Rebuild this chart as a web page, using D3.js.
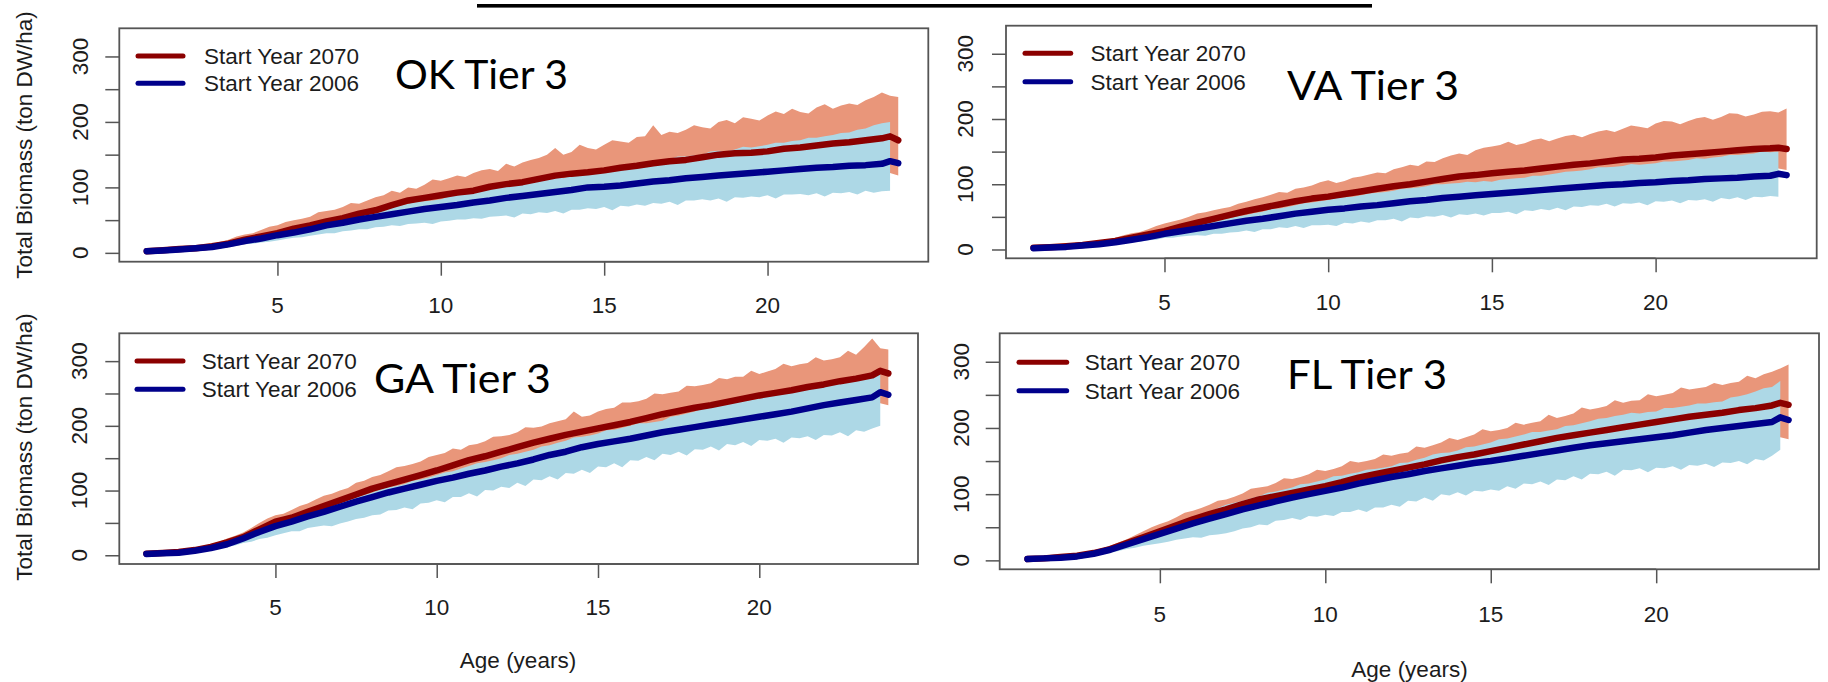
<!DOCTYPE html>
<html>
<head>
<meta charset="utf-8">
<script src="https://cdn.jsdelivr.net/npm/d3@7"></script>
<style>
  html, body { margin: 0; padding: 0; background: #fff; }
  svg { display: block; }
</style>
</head>
<body>
<svg id="chart" width="1828" height="682"></svg>
<script>
// Stand age (years) for the ensemble means
const ages = [1, 1.5, 2, 2.5, 3, 3.5, 4, 4.5, 5, 5.5, 6, 6.5, 7, 7.5, 8, 8.5, 9, 9.5, 10, 10.5,
  11, 11.5, 12, 12.5, 13, 13.5, 14, 14.5, 15, 15.5, 16, 16.5, 17, 17.5, 18, 18.5, 19, 19.5, 20, 20.5,
  21, 21.5, 22, 22.5, 23, 23.5, 23.75, 24];
// Stand age (years) for the ensemble ranges, quarterly from age 1 to 24
const bandAges = d3.range(1, 24.001, 0.25);

const seriesNames = ["Start Year 2070", "Start Year 2006"];
const yTicks = [0, 50, 100, 150, 200, 250, 300];
const yTickLabels = [0, 100, 200, 300];
const xTicks = [5, 10, 15, 20];

// ---- OK Tier 3 (ton DW/ha) ----
const okRedMean = [2.5, 4, 6, 7, 10, 14, 20, 25, 30, 37, 42, 48, 53, 60, 65, 73, 80, 84, 88, 92,
  95, 101, 105, 108, 113, 118, 121, 123, 126, 130, 133, 137, 140, 142, 146, 150, 152, 153, 155, 159,
  161, 164, 167, 169, 172, 175, 178, 172];
const okBlueMean = [2.5, 3.5, 5, 7, 9, 13, 18, 22, 27, 31, 36, 42, 46, 51, 55, 59, 63, 67, 70, 73,
  77, 80, 84, 87, 90, 93, 96, 100, 101, 103, 106, 109, 111, 114, 116, 118, 120, 122, 124, 126,
  128, 130, 131, 133, 134, 136, 140, 137];
const okRedHi = [5, 6, 7, 9, 10, 8, 9, 12, 14, 17, 20, 25, 28, 30, 35, 40, 42, 47, 50, 52,
  55, 62, 64, 66, 70, 76, 75, 80, 85, 88, 95, 92, 100, 98, 104, 112, 110, 114, 118, 116,
  122, 126, 128, 125, 136, 132, 138, 142, 145, 150, 160, 150, 154, 165, 160, 158, 165, 172, 170, 168,
  177, 178, 195, 180, 185, 183, 188, 195, 192, 190, 200, 203, 198, 207, 205, 202, 210, 216, 212, 220,
  215, 213, 222, 227, 220, 225, 228, 226, 233, 238, 245, 240, 238];
const okRedLo = [1, 1.5, 2, 2.5, 3, 3.5, 4, 5, 6, 7, 9, 11, 13, 15, 17, 19, 21, 24, 26, 28,
  31, 33, 35, 37, 39, 42, 45, 47, 50, 52, 55, 57, 60, 62, 65, 66, 68, 70, 72, 73,
  75, 77, 79, 80, 82, 84, 86, 88, 90, 91, 93, 94, 96, 97, 98, 99, 100, 102, 103, 105,
  106, 107, 108, 110, 111, 112, 113, 115, 116, 117, 118, 119, 120, 120, 121, 121, 122, 124, 125, 125,
  126, 127, 128, 129, 130, 130, 130, 131, 132, 132, 133, 122, 118];
const okBlueHi = [4, 4, 5, 6, 7, 8, 9, 10, 11, 13, 16, 19, 22, 24, 27, 30, 33, 36, 38, 40,
  43, 47, 50, 52, 55, 58, 60, 62, 65, 69, 70, 72, 75, 78, 79, 80, 82, 86, 88, 89,
  92, 96, 97, 99, 102, 104, 106, 109, 110, 114, 120, 114, 118, 121, 122, 124, 127, 130, 131, 133,
  135, 139, 140, 141, 143, 147, 147, 149, 150, 155, 156, 155, 158, 162, 161, 163, 165, 168, 168, 171,
  172, 176, 176, 178, 180, 183, 184, 188, 190, 195, 198, 200, null];
const okBlueLo = [1, 1, 2, 2, 3, 3, 4, 5, 6, 7, 9, 11, 13, 14, 16, 17, 19, 21, 23, 24,
  26, 28, 30, 30, 33, 34, 36, 36, 39, 40, 42, 41, 44, 45, 46, 44, 48, 49, 51, 51,
  53, 52, 55, 56, 57, 54, 60, 59, 62, 61, 64, 60, 66, 66, 68, 67, 70, 65, 72, 71,
  74, 72, 76, 75, 78, 73, 80, 80, 82, 80, 83, 78, 85, 84, 86, 85, 88, 83, 89, 89,
  90, 88, 91, 86, 92, 91, 93, 89, 95, 92, 94, 95, null];

// ---- VA Tier 3 ----
const vaRedMean = [2.5, 3.5, 5, 7, 10, 13, 18, 23, 28, 35, 41, 47, 53, 59, 64, 69, 74, 78, 81, 85,
  89, 93, 97, 100, 104, 108, 112, 114, 117, 119, 121, 124, 127, 130, 132, 135, 138, 139, 141, 144,
  146, 148, 150, 152, 154, 155, 156, 154];
const vaBlueMean = [2, 3, 4, 6, 8, 11, 15, 19, 24, 28, 32, 36, 40, 44, 47, 51, 55, 58, 61, 63,
  66, 68, 71, 74, 76, 79, 81, 83, 85, 87, 89, 91, 93, 95, 97, 99, 100, 102, 103, 105,
  106, 108, 109, 110, 112, 113, 116, 114];
const vaRedHi = [5, 5, 6, 7, 8, 9, 10, 11, 13, 15, 18, 22, 25, 27, 31, 36, 40, 43, 46, 50,
  55, 57, 60, 63, 65, 70, 73, 77, 80, 84, 88, 87, 93, 95, 98, 103, 106, 102, 105, 110,
  112, 115, 118, 117, 123, 126, 130, 128, 135, 134, 140, 144, 147, 145, 152, 156, 158, 160, 165, 160,
  163, 168, 170, 166, 170, 174, 176, 172, 177, 181, 183, 180, 185, 190, 188, 186, 193, 197, 196, 192,
  197, 201, 203, 199, 203, 209, 208, 204, 207, 211, 212, 210, 216];
const vaRedLo = [1, 1.5, 2, 2.5, 3, 4, 5, 6, 7, 8, 10, 12, 14, 16, 18, 20, 22, 25, 28, 30,
  33, 35, 38, 40, 43, 45, 48, 50, 53, 55, 57, 60, 62, 63, 65, 66, 68, 69, 71, 72,
  74, 76, 78, 79, 81, 82, 84, 85, 87, 88, 90, 91, 93, 94, 96, 97, 98, 99, 100, 101,
  102, 103, 104, 105, 106, 107, 108, 109, 110, 111, 112, 113, 114, 115, 116, 116, 117, 118, 119, 119,
  120, 120, 121, 121, 122, 123, 124, 124, 125, 125, 126, 124, 122];
const vaBlueHi = [3, 3, 4, 5, 6, 7, 8, 9, 11, 12, 14, 17, 19, 22, 24, 27, 30, 33, 35, 38,
  40, 43, 44, 46, 48, 51, 53, 56, 58, 62, 63, 65, 68, 71, 72, 74, 76, 79, 80, 81,
  83, 86, 87, 88, 90, 93, 94, 95, 97, 100, 100, 101, 102, 104, 103, 105, 104, 107, 108, 109,
  110, 113, 113, 115, 117, 119, 120, 121, 123, 126, 126, 127, 128, 131, 130, 131, 132, 135, 135, 136,
  137, 140, 139, 141, 142, 145, 145, 146, 147, 150, 149, 150, null];
const vaBlueLo = [1, 1, 2, 2, 3, 3, 4, 5, 6, 7, 8, 9, 11, 12, 14, 15, 18, 18, 20, 21,
  22, 21, 24, 24, 26, 27, 29, 27, 31, 31, 34, 33, 36, 33, 37, 37, 38, 36, 41, 40,
  43, 41, 45, 45, 47, 43, 49, 48, 51, 50, 53, 49, 54, 53, 55, 52, 56, 56, 58, 54,
  60, 59, 62, 60, 64, 60, 66, 65, 68, 67, 70, 66, 71, 70, 72, 68, 74, 73, 75, 71,
  76, 75, 77, 73, 79, 77, 80, 76, 81, 80, 82, 81, null];

// ---- GA Tier 3 ----
const gaRedMean = [2.5, 3.5, 5, 8, 13, 20, 28, 40, 52, 58, 67, 76, 85, 94, 103, 110, 117, 124, 131, 139,
  147, 153, 160, 167, 174, 180, 186, 191, 196, 201, 206, 212, 218, 223, 228, 232, 237, 242, 247, 251,
  255, 260, 264, 269, 273, 278, 285, 281];
const gaBlueMean = [2, 3, 4, 7, 11, 17, 26, 36, 45, 52, 60, 67, 75, 83, 90, 97, 103, 109, 115, 120,
  126, 131, 137, 142, 148, 155, 160, 167, 172, 176, 180, 185, 190, 194, 198, 202, 206, 210, 214, 218,
  222, 227, 232, 236, 240, 244, 252, 248];
const gaRedHi = [5, 5, 6, 7, 8, 10, 12, 14, 17, 21, 26, 30, 35, 42, 50, 57, 62, 64, 70, 76,
  80, 86, 92, 95, 100, 104, 112, 115, 121, 124, 130, 136, 138, 141, 145, 152, 155, 158, 165, 163,
  170, 172, 176, 183, 184, 186, 190, 198, 197, 199, 204, 207, 210, 222, 214, 216, 222, 226, 228, 236,
  236, 238, 242, 250, 249, 251, 253, 262, 261, 263, 266, 274, 272, 276, 276, 285, 280, 284, 288, 296,
  292, 295, 297, 306, 301, 303, 306, 316, 310, 322, 335, 320, 318];
const gaRedLo = [1, 1.5, 2, 2.5, 3, 4, 5, 7, 9, 12, 15, 18, 22, 27, 32, 38, 43, 45, 48, 52,
  56, 60, 63, 67, 71, 75, 79, 83, 87, 90, 93, 96, 99, 102, 105, 108, 111, 114, 117, 121,
  124, 126, 129, 132, 135, 138, 141, 144, 147, 150, 152, 155, 157, 159, 161, 163, 165, 168, 170, 172,
  174, 177, 179, 182, 184, 186, 188, 190, 192, 194, 196, 198, 200, 202, 204, 206, 208, 210, 212, 214,
  215, 217, 219, 221, 222, 224, 226, 228, 229, 231, 233, 235, 232];
const gaBlueHi = [3, 3, 4, 5, 6, 7, 9, 11, 14, 17, 21, 25, 30, 36, 42, 48, 52, 56, 59, 63,
  66, 70, 72, 76, 80, 86, 90, 93, 97, 102, 105, 107, 110, 115, 117, 120, 124, 128, 130, 134,
  138, 142, 144, 147, 150, 155, 157, 160, 163, 168, 170, 174, 177, 182, 183, 185, 188, 193, 194, 197,
  200, 204, 204, 206, 208, 214, 216, 219, 222, 227, 228, 231, 234, 238, 238, 240, 242, 247, 248, 250,
  252, 256, 256, 258, 260, 265, 265, 268, 270, 276, 280, 288, null];
const gaBlueLo = [1, 1, 2, 2, 3, 4, 5, 6, 8, 10, 13, 15, 19, 21, 25, 27, 31, 34, 37, 37,
  42, 44, 46, 45, 49, 52, 56, 58, 62, 63, 69, 70, 74, 71, 80, 81, 85, 82, 90, 90,
  96, 91, 101, 100, 106, 104, 112, 107, 117, 116, 122, 117, 127, 126, 132, 127, 137, 136, 142, 136,
  147, 146, 152, 147, 157, 155, 160, 154, 164, 163, 168, 162, 172, 170, 175, 169, 178, 177, 180, 174,
  182, 181, 184, 178, 186, 185, 190, 184, 193, 191, 196, 200, null];

// ---- FL Tier 3 ----
const flRedMean = [2, 3, 5, 7, 11, 17, 26, 35, 44, 53, 62, 70, 77, 85, 92, 97, 102, 107, 112, 118,
  125, 130, 135, 140, 145, 151, 156, 160, 165, 170, 175, 180, 185, 189, 193, 197, 201, 205, 209, 213,
  217, 220, 223, 227, 230, 234, 238, 235];
const flBlueMean = [2, 3, 4, 6, 10, 16, 24, 32, 40, 48, 56, 63, 70, 77, 83, 89, 95, 100, 105, 110,
  116, 121, 126, 130, 135, 139, 143, 147, 150, 154, 158, 162, 166, 170, 174, 177, 180, 183, 186, 189,
  193, 197, 200, 203, 206, 209, 216, 212];
const flRedHi = [4, 4, 5, 6, 7, 8, 10, 12, 15, 18, 22, 27, 32, 38, 44, 50, 55, 59, 65, 72,
  75, 79, 84, 90, 92, 96, 101, 108, 110, 112, 117, 124, 123, 126, 130, 137, 135, 138, 142, 150,
  148, 150, 153, 160, 158, 161, 163, 172, 170, 174, 178, 185, 182, 186, 190, 198, 195, 197, 200, 208,
  205, 208, 210, 220, 215, 218, 222, 231, 228, 230, 233, 242, 238, 241, 242, 251, 248, 250, 253, 261,
  258, 260, 262, 268, 265, 268, 270, 279, 275, 281, 285, 290, 296];
const flRedLo = [1, 1.5, 2, 2.5, 3, 4, 5, 6.5, 8, 10, 12, 16, 20, 23, 27, 30, 34, 37, 41, 45,
  49, 52, 56, 59, 62, 65, 69, 72, 75, 77, 79, 81, 83, 85, 87, 89, 91, 93, 96, 99,
  102, 104, 106, 108, 111, 113, 115, 117, 119, 121, 124, 126, 128, 129, 131, 133, 135, 137, 139, 141,
  143, 145, 147, 149, 151, 153, 155, 156, 158, 160, 162, 163, 165, 166, 168, 169, 171, 172, 174, 175,
  177, 178, 179, 180, 181, 182, 183, 184, 185, 186, 187, 186, 183];
const flBlueHi = [3, 3, 4, 5, 6, 7, 8, 10, 12, 15, 19, 23, 28, 33, 37, 42, 47, 52, 56, 61,
  65, 70, 73, 79, 84, 87, 90, 94, 97, 102, 104, 107, 110, 115, 116, 119, 122, 127, 128, 131,
  133, 137, 138, 140, 142, 147, 148, 152, 155, 160, 162, 163, 166, 171, 172, 175, 178, 183, 184, 187,
  190, 194, 194, 196, 198, 203, 204, 207, 210, 214, 215, 218, 220, 223, 222, 224, 225, 230, 230, 232,
  234, 237, 237, 239, 240, 246, 248, 251, 255, 260, 262, 271, null];
const flBlueLo = [1, 1, 2, 2, 3, 3, 4, 5, 7, 9, 11, 14, 17, 19, 22, 24, 26, 28, 31, 33,
  35, 34, 38, 39, 41, 44, 48, 50, 54, 53, 60, 61, 64, 61, 67, 66, 69, 67, 73, 73,
  77, 73, 80, 80, 84, 81, 90, 89, 95, 90, 100, 98, 103, 98, 105, 104, 107, 105, 112, 108,
  116, 115, 119, 114, 122, 121, 127, 122, 131, 130, 134, 128, 137, 136, 139, 133, 140, 139, 142, 137,
  144, 143, 146, 141, 148, 147, 150, 145, 153, 151, 158, 167, null];

// Panel placement on the page
const panels = [
  { title: "OK Tier 3", mean: [okRedMean, okBlueMean], red: [okRedLo, okRedHi], blue: [okBlueLo, okBlueHi],
    box: [119.3, 928.3, 28.3, 261.7], yLabX: 88, xLabY: 313,
    legend: { x0: 138, x1: 183, y1: 56, y2: 83.3, tx: 204 },
    head: { x: 395, y: 89, w: 173 }, yTitle: { x: 32, cy: 145 } },
  { title: "VA Tier 3", mean: [vaRedMean, vaBlueMean], red: [vaRedLo, vaRedHi], blue: [vaBlueLo, vaBlueHi],
    box: [1006, 1816.7, 25.7, 258.3], yLabX: 973, xLabY: 310,
    legend: { x0: 1025, x1: 1070.7, y1: 53.3, y2: 81.7, tx: 1090.6 },
    head: { x: 1287, y: 100, w: 172 } },
  { title: "GA Tier 3", mean: [gaRedMean, gaBlueMean], red: [gaRedLo, gaRedHi], blue: [gaBlueLo, gaBlueHi],
    box: [119.3, 918, 333.3, 564], yLabX: 87, xLabY: 615,
    legend: { x0: 137, x1: 183, y1: 361, y2: 389.3, tx: 201.7 },
    head: { x: 374, y: 392.7, w: 177 }, yTitle: { x: 32, cy: 447 }, xTitle: { cx: 518, y: 668 } },
  { title: "FL Tier 3", mean: [flRedMean, flBlueMean], red: [flRedLo, flRedHi], blue: [flBlueLo, flBlueHi],
    box: [999.7, 1819, 333.3, 569.3], yLabX: 969, xLabY: 621.5,
    legend: { x0: 1019, x1: 1066.7, y1: 362.3, y2: 390.7, tx: 1084.8 },
    head: { x: 1287, y: 389, w: 160 }, xTitle: { cx: 1409.5, y: 677 } }
];

const colors = {
  redLine: "#8B0000", blueLine: "#00008B",
  redBand: "#E9967A", blueBand: "#ADD8E6",
  axis: "#555555", text: "#1c1c1c"
};
const rFont = "'Liberation Sans', Arial, Helvetica, sans-serif";
const fs = 22.5;

const svg = d3.select("#chart");

// Heading rule at the very top of the page
svg.append("rect").attr("x", 477).attr("y", 4).attr("width", 895).attr("height", 3.6).attr("fill", "#000");

panels.forEach(p => {
  const [bx0, bx1, by0, by1] = p.box;
  const x = d3.scaleLinear().domain([0.16, 24.92]).range([bx0, bx1]);
  const y = d3.scaleLinear().domain([-13.5, 343]).range([by1, by0]);
  const g = svg.append("g");

  const bandRows = arr => bandAges.map((a, i) => ({ age: a, lo: arr[0][i], hi: arr[1][i] }));
  const meanRows = arr => ages.map((a, i) => ({ age: a, v: arr[i] }));

  const band = d3.area()
    .defined(d => d.hi != null && d.lo != null)
    .x(d => x(d.age)).y0(d => y(d.lo)).y1(d => y(d.hi));
  const line = d3.line().x(d => x(d.age)).y(d => y(d.v));

  g.append("path").datum(bandRows(p.red)).attr("d", band).attr("fill", colors.redBand);
  g.append("path").datum(bandRows(p.blue)).attr("d", band).attr("fill", colors.blueBand);
  [[p.mean[0], colors.redLine], [p.mean[1], colors.blueLine]].forEach(([m, c]) => {
    g.append("path").datum(meanRows(m)).attr("d", line).attr("fill", "none")
      .attr("stroke", c).attr("stroke-width", 6.5)
      .attr("stroke-linejoin", "round").attr("stroke-linecap", "round");
  });

  // plot frame
  g.append("rect").attr("x", bx0).attr("y", by0).attr("width", bx1 - bx0).attr("height", by1 - by0)
    .attr("fill", "none").attr("stroke", colors.axis).attr("stroke-width", 1.8);

  // y axis: ticks every 50, labels every 100, rotated
  const yAxis = d3.axisLeft(y).tickValues(yTicks).tickSize(14).tickFormat(() => "");
  const ya = g.append("g").attr("transform", `translate(${bx0},0)`).call(yAxis);
  ya.select(".domain").remove();
  ya.selectAll("line").attr("stroke", colors.axis).attr("stroke-width", 1.5);
  yTickLabels.forEach(v => {
    g.append("text").attr("transform", `translate(${p.yLabX},${y(v)}) rotate(-90)`)
      .attr("text-anchor", "middle").attr("font-family", rFont).attr("font-size", fs)
      .attr("fill", colors.text).text(v);
  });

  // x axis
  const xAxis = d3.axisBottom(x).tickValues(xTicks).tickSize(14).tickFormat(() => "");
  const xa = g.append("g").attr("transform", `translate(0,${by1})`).call(xAxis);
  xa.select(".domain").attr("stroke", colors.axis).attr("stroke-width", 1.5)
    .attr("d", `M${x(xTicks[0])},0H${x(xTicks[xTicks.length - 1])}`);
  xa.selectAll("line").attr("stroke", colors.axis).attr("stroke-width", 1.5);
  xTicks.forEach(v => {
    g.append("text").attr("x", x(v)).attr("y", p.xLabY).attr("text-anchor", "middle")
      .attr("font-family", rFont).attr("font-size", fs).attr("fill", colors.text).text(v);
  });

  // legend
  const L = p.legend;
  [[L.y1, colors.redLine, seriesNames[0]], [L.y2, colors.blueLine, seriesNames[1]]].forEach(([ly, c, t]) => {
    g.append("line").attr("x1", L.x0).attr("x2", L.x1).attr("y1", ly).attr("y2", ly)
      .attr("stroke", c).attr("stroke-width", 5).attr("stroke-linecap", "round");
    g.append("text").attr("x", L.tx).attr("y", ly + 8).attr("font-family", rFont)
      .attr("font-size", fs).attr("fill", colors.text).text(t);
  });

  // panel heading
  g.append("text").attr("x", p.head.x).attr("y", p.head.y)
    .attr("font-family", "Lato, 'Open Sans', sans-serif").attr("font-size", 40.5)
    .attr("textLength", p.head.w).attr("lengthAdjust", "spacingAndGlyphs")
    .attr("fill", "#000").text(p.title);

  if (p.yTitle) {
    g.append("text").attr("transform", `translate(${p.yTitle.x},${p.yTitle.cy}) rotate(-90)`)
      .attr("text-anchor", "middle").attr("font-family", rFont).attr("font-size", fs)
      .attr("fill", colors.text).text("Total Biomass (ton DW/ha)");
  }
  if (p.xTitle) {
    g.append("text").attr("x", p.xTitle.cx).attr("y", p.xTitle.y).attr("text-anchor", "middle")
      .attr("font-family", rFont).attr("font-size", fs).attr("fill", colors.text).text("Age (years)");
  }
});
</script>
</body>
</html>
